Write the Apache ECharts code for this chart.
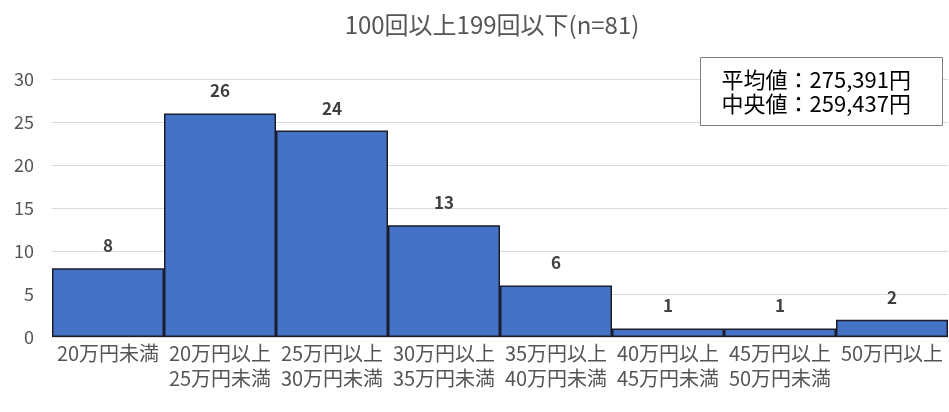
<!DOCTYPE html>
<html><head><meta charset="utf-8">
<script src="https://cdn.jsdelivr.net/npm/echarts@6/dist/echarts.min.js"></script>
<style>html,body{margin:0;padding:0;background:#fff}#c{width:949px;height:412px}</style>
</head><body><div id="c"></div>
<script>
const titleText = '100回以上199回以下(n=81)';
const categories = ['20万円未満', '20万円以上\n25万円未満', '25万円以上\n30万円未満', '30万円以上\n35万円未満', '35万円以上\n40万円未満', '40万円以上\n45万円未満', '45万円以上\n50万円未満', '50万円以上'];
const counts = [8, 26, 24, 13, 6, 1, 1, 2];
const yTicks = {min: 0, max: 30, interval: 5};
const noteLines = ['平均値：275,391円', '中央値：259,437円'];

const FONT = '"Noto Sans CJK JP", "Noto Sans", sans-serif';
const chart = echarts.init(document.getElementById('c'));
chart.setOption({
  animation: false,
  backgroundColor: '#fff',
  title: {
    text: titleText, left: 487, top: 8, textAlign: 'center',
    textStyle: {fontFamily: FONT, fontSize: 24, fontWeight: 'normal', color: '#555555'}
  },
  grid: {left: 52, right: 1, top: 79, bottom: 75},
  xAxis: {
    type: 'category', data: categories,
    axisLine: {show: true, lineStyle: {color: '#d9d9d9', width: 1}},
    axisTick: {show: false},
    axisLabel: {interval: 0, fontFamily: FONT, fontSize: 20, color: '#555555', lineHeight: 25, margin: 4, verticalAlign: 'top'}
  },
  yAxis: {
    type: 'value', min: yTicks.min, max: yTicks.max, interval: yTicks.interval,
    axisLine: {show: false}, axisTick: {show: false},
    splitLine: {lineStyle: {color: '#d9d9d9', width: 1}},
    axisLabel: {fontFamily: FONT, fontSize: 18, color: '#555555', margin: 18}
  },
  series: [{
    type: 'bar', data: counts, barWidth: '100%', barCategoryGap: '0%',
    itemStyle: {color: '#4472C4', borderColor: '#1c1c2a', borderWidth: 1.5},
    label: {show: true, position: 'top', distance: 14, fontFamily: FONT, fontSize: 17, fontWeight: 'bold', color: '#404040'}
  }],
  graphic: [{
    type: 'group', left: 700, top: 57, z: 100,
    children: [
      {type: 'rect', z: 100, shape: {x: 0, y: 0, width: 242, height: 68}, style: {fill: '#fff', stroke: '#7f7f7f', lineWidth: 1}},
      {type: 'text', z: 101, x: 21, y: 10, style: {text: noteLines.join('\n'), fontFamily: FONT, fontSize: 22, lineHeight: 24, fill: '#000'}}
    ]
  }]
});
</script></body></html>
